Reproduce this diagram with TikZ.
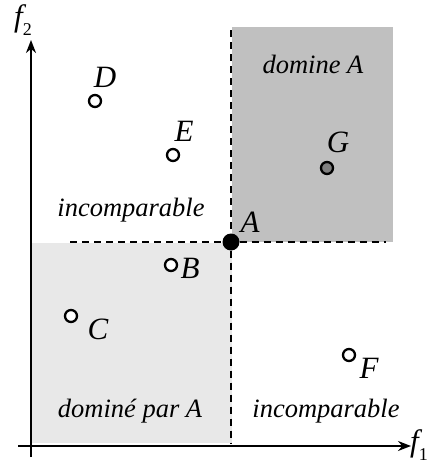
\documentclass[tikz,border=0pt]{standalone}
\usepackage{fontspec}
\setmainfont{Liberation Serif}
\usetikzlibrary{arrows.meta}
\definecolor{darkreg}{HTML}{C0C0C0}
\definecolor{lightreg}{HTML}{E8E8E8}
\definecolor{gfill}{HTML}{808080}
\newcommand{\subidx}[1]{\raisebox{-0.3em}{\fontsize{18}{18}\selectfont\upshape #1}}
\begin{document}
\begin{tikzpicture}[x=1pt,y=-1pt,
  pt/.style={circle,draw=black,line width=2.3pt,fill=white,minimum size=12pt,inner sep=0pt},
  lbl/.style={font=\fontsize{31}{33}\selectfont\itshape,inner sep=0pt},
  region/.style={font=\fontsize{26.5}{29}\selectfont\itshape,inner sep=0pt},
  axis/.style={line width=1.8pt,-{Stealth[length=13pt,width=10pt]}},
  dline/.style={line width=1.8pt,dash pattern=on 7pt off 5pt}]
\useasboundingbox (0,0) rectangle (433,464);
\fill[white] (0,0) rectangle (433,464);
% regions
\fill[darkreg] (232,27) rectangle (393,242);
\fill[lightreg] (32,243) rectangle (232,443);
% axes
\coordinate (xs) at (18,446);
\coordinate (xe) at (411,446);
\coordinate (ys) at (31,457);
\coordinate (ye) at (31,40);
\draw[axis] (xs) -- (xe);
\draw[axis] (ys) -- (ye);
\node[lbl,anchor=base west] (f1) at (410,451) {f\subidx{1}};
\node[lbl,anchor=base west] (f2) at (14,26) {f\subidx{2}};
% A
\node[circle,fill=black,minimum size=17pt,inner sep=0pt] (A) at (231,242) {};
\coordinate (hl) at (70,242);
\coordinate (hr) at (386,242);
\coordinate (vt) at (231,30);
\coordinate (vb) at (231,443);
\draw[dline] (hl) -- (A) -- (hr);
\draw[dline] (vt) -- (A) -- (vb);
\node[lbl] (Al) at (250,222) {A};
% points
\node[pt] (D) at (95,101) {};
\node[lbl] (Dl) at (105,77) {D};
\node[pt] (E) at (173,155) {};
\node[lbl] (El) at (184,131) {E};
\node[pt,fill=gfill] (G) at (327,168) {};
\node[lbl] (Gl) at (338,142) {G};
\node[pt] (B) at (171,265) {};
\node[lbl] (Bl) at (190,268) {B};
\node[pt] (C) at (71,316) {};
\node[lbl] (Cl) at (98,329) {C};
\node[pt] (F) at (349,355) {};
\node[lbl] (Fl) at (369,368) {F};
% region labels
\node[region] (r1) at (313,64) {domine A};
\node[region] (r2) at (131,210) {incomparable};
\node[region] (r3) at (130,411) {dominé par A};
\node[region] (r4) at (326,411) {incomparable};
\end{tikzpicture}
\end{document}
